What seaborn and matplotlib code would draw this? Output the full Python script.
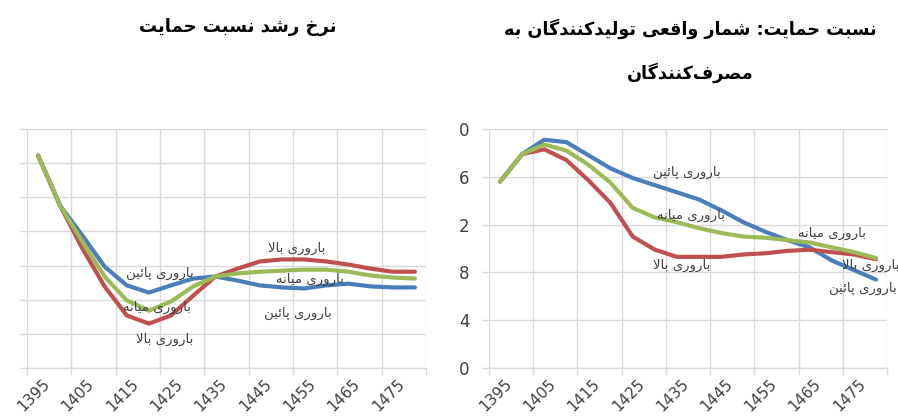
"""
Support ratio charts (two panels) drawn with seaborn.
"""

import numpy as np
import pandas as pd
import matplotlib.pyplot as plt
import seaborn as sns
from matplotlib.ticker import FixedLocator
from matplotlib.transforms import ScaledTranslation


# -----------------------------------
# Data
# -----------------------------------

years = list(range(1395, 1485, 5))
label_years = list(range(1395, 1476, 10))

names = ["باروری پائین", "باروری بالا", "باروری میانه"]

# growth rate of support ratio (percent)
growth_low = [3.22, 1.75, 0.88, -0.03, -0.58, -0.79, -0.58, -0.38, -0.32,
              -0.44, -0.58, -0.64, -0.67, -0.58, -0.53, -0.61, -0.64, -0.64]
growth_high = [3.22, 1.75, 0.50, -0.61, -1.46, -1.70, -1.46, -0.88, -0.32,
               -0.09, 0.12, 0.18, 0.18, 0.12, 0.03, -0.09, -0.18, -0.18]
growth_mid = [3.22, 1.75, 0.70, -0.32, -1.02, -1.32, -1.05, -0.61, -0.32,
              -0.23, -0.18, -0.15, -0.12, -0.12, -0.18, -0.29, -0.35, -0.38]

# support ratio level
ratio_low = [1.56, 1.79, 1.91, 1.89, 1.78, 1.67, 1.59, 1.53, 1.47,
             1.41, 1.32, 1.22, 1.14, 1.07, 1.01, 0.90, 0.82, 0.74]
ratio_high = [1.56, 1.79, 1.83, 1.74, 1.57, 1.38, 1.10, 0.99, 0.93,
              0.93, 0.93, 0.95, 0.96, 0.98, 0.99, 0.97, 0.95, 0.91]
ratio_mid = [1.56, 1.79, 1.87, 1.82, 1.70, 1.55, 1.34, 1.26, 1.22,
             1.17, 1.13, 1.10, 1.09, 1.07, 1.05, 1.01, 0.97, 0.92]

# right panel tick labels (left part of each label is cut off in the source)
ratio_ticks = [0.0, 0.4, 0.8, 1.2, 1.6, 2.0]
ratio_tick_labels = ["0", "4", "8", "2", "6", "0"]

left_title = "نرخ رشد نسبت حمایت"
right_title_1 = "نسبت حمایت: شمار واقعی تولیدکنندگان به"
right_title_2 = "مصرف\u200cکنندگان"

# (text, x, y) in data units
left_notes = [
    ("باروری بالا", 1453.4, 0.49),
    ("باروری بالا", 1423.6, -2.15),
    ("باروری پائین", 1422.5, -0.22),
    ("باروری پائین", 1453.6, -1.39),
    ("باروری میانه", 1421.8, -1.24),
    ("باروری میانه", 1456.3, -0.42),
]
right_notes = [
    ("باروری پائین", 1437.3, 1.64),
    ("باروری میانه", 1438.2, 1.28),
    ("باروری بالا", 1436.1, 0.86),
    ("باروری میانه", 1470.1, 1.13),
    ("باروری بالا", 1478.7, 0.86),
    ("باروری پائین", 1477.1, 0.67),
]

colors = {
    "باروری پائین": "#4a7ebb",
    "باروری بالا": "#c0504d",
    "باروری میانه": "#9bbb59",
}
grid_c = "#d9d9d9"
text_c = "#404040"


# -----------------------------------
# Persian shaping (matplotlib has no RTL / joining support)
# -----------------------------------

FORMS = {  # isolated, final, initial, medial
    "ا": (0xFE8D, 0xFE8E), "آ": (0xFE81, 0xFE82),
    "ب": (0xFE8F, 0xFE90, 0xFE91, 0xFE92), "پ": (0xFB56, 0xFB57, 0xFB58, 0xFB59),
    "ت": (0xFE95, 0xFE96, 0xFE97, 0xFE98), "ح": (0xFEA1, 0xFEA2, 0xFEA3, 0xFEA4),
    "خ": (0xFEA5, 0xFEA6, 0xFEA7, 0xFEA8), "د": (0xFEA9, 0xFEAA),
    "ر": (0xFEAD, 0xFEAE), "س": (0xFEB1, 0xFEB2, 0xFEB3, 0xFEB4),
    "ش": (0xFEB5, 0xFEB6, 0xFEB7, 0xFEB8), "ص": (0xFEB9, 0xFEBA, 0xFEBB, 0xFEBC),
    "ع": (0xFEC9, 0xFECA, 0xFECB, 0xFECC), "ف": (0xFED1, 0xFED2, 0xFED3, 0xFED4),
    "ق": (0xFED5, 0xFED6, 0xFED7, 0xFED8), "ک": (0xFB8E, 0xFB8F, 0xFB90, 0xFB91),
    "گ": (0xFB92, 0xFB93, 0xFB94, 0xFB95), "ل": (0xFEDD, 0xFEDE, 0xFEDF, 0xFEE0),
    "م": (0xFEE1, 0xFEE2, 0xFEE3, 0xFEE4), "ن": (0xFEE5, 0xFEE6, 0xFEE7, 0xFEE8),
    "ه": (0xFEE9, 0xFEEA, 0xFEEB, 0xFEEC), "و": (0xFEED, 0xFEEE),
    "ی": (0xFBFC, 0xFBFD, 0xFBFE, 0xFBFF), "ئ": (0xFE89, 0xFE8A, 0xFE8B, 0xFE8C),
    "\ufefb": (0xFEFB, 0xFEFC),
}


def dual(ch):
    return ch in FORMS and len(FORMS[ch]) == 4


def fa(text):
    text = text.replace("لا", "\ufefb")
    out = []
    for i, ch in enumerate(text):
        if ch not in FORMS:
            if ch != "\u200c":
                out.append(ch)
            continue
        prev = text[i - 1] if i > 0 else ""
        nxt = text[i + 1] if i + 1 < len(text) else ""
        p = dual(prev)
        n = dual(ch) and nxt in FORMS
        f = FORMS[ch]
        if p and n:
            out.append(chr(f[3]))
        elif p:
            out.append(chr(f[1]))
        elif n:
            out.append(chr(f[2]))
        else:
            out.append(chr(f[0]))
    return "".join(reversed(out))


# -----------------------------------
# Figure
# -----------------------------------

sns.set_theme(style="white")
plt.rcParams["font.family"] = ["DejaVu Sans"]

fig = plt.figure(figsize=(8.98, 4.19), dpi=100)
ax_l = fig.add_axes([27 / 898, 51 / 419, 399 / 898, 239 / 419])
ax_r = fig.add_axes([489 / 898, 51 / 419, 398 / 898, 239 / 419])

n = len(years)
growth = pd.DataFrame({
    "year": years * 3,
    "value": growth_low + growth_high + growth_mid,
    "series": np.repeat(names, n),
})
ratio = pd.DataFrame({
    "year": years * 3,
    "value": ratio_low + ratio_high + ratio_mid,
    "series": np.repeat(names, n),
})

for ax, df in [(ax_l, growth), (ax_r, ratio)]:
    sns.lineplot(
        data=df, x="year", y="value", hue="series", hue_order=names,
        palette=colors, linewidth=3, legend=False, ax=ax
    )

label_shift = ScaledTranslation(4 / 100, 0, fig.dpi_scale_trans)


def style_axis(ax):
    ax.set_xlim(1392.5, 1482.5)
    ax.set_xlabel("")
    ax.set_ylabel("")
    ax.set_xticks(label_years)
    ax.set_xticklabels([str(y) for y in label_years])
    ax.xaxis.set_minor_locator(FixedLocator(np.arange(1392.5, 1483, 10)))
    ax.grid(False)
    ax.grid(True, which="minor", axis="x", color=grid_c, lw=1)
    ax.grid(True, which="major", axis="y", color=grid_c, lw=1)
    ax.set_axisbelow(True)
    ax.tick_params(axis="x", which="major", length=0, pad=6,
                   labelsize=11, labelcolor=text_c)
    ax.tick_params(axis="x", which="minor", length=5, width=1,
                   color=grid_c, direction="out", bottom=True)
    ax.tick_params(axis="y", length=5, width=1, color=grid_c,
                   direction="out", left=True, labelsize=12,
                   labelcolor=text_c, pad=9)
    for lab in ax.get_xticklabels():
        lab.set_rotation(45)
        lab.set_ha("right")
        lab.set_va("top")
        lab.set_rotation_mode("anchor")
        lab.set_transform(lab.get_transform() + label_shift)
    for side in ["top", "right", "left"]:
        ax.spines[side].set_visible(False)
    ax.spines["bottom"].set_color(grid_c)
    ax.spines["bottom"].set_linewidth(1)


style_axis(ax_l)
style_axis(ax_r)

ax_l.set_ylim(-3, 4)
ax_l.set_yticks(range(-3, 5))
ax_l.set_yticklabels([])

ax_r.set_ylim(0, 2.0)
ax_r.set_yticks(ratio_ticks)
ax_r.set_yticklabels(ratio_tick_labels)

for ax, notes in [(ax_l, left_notes), (ax_r, right_notes)]:
    for txt, x, y in notes:
        ax.text(x, y, fa(txt), ha="center", va="center",
                fontsize=9.5, color=text_c)

fig.text(238 / 898, 1 - 27 / 419, fa(left_title), ha="center",
         va="center", fontsize=13, fontweight="bold", color="black")
fig.text(690 / 898, 1 - 29 / 419, fa(right_title_1), ha="center",
         va="center", fontsize=12.7, fontweight="bold", color="black")
fig.text(690 / 898, 1 - 73 / 419, fa(right_title_2), ha="center",
         va="center", fontsize=12.7, fontweight="bold", color="black")

fig.savefig("out.png", dpi=100)
plt.close(fig)
